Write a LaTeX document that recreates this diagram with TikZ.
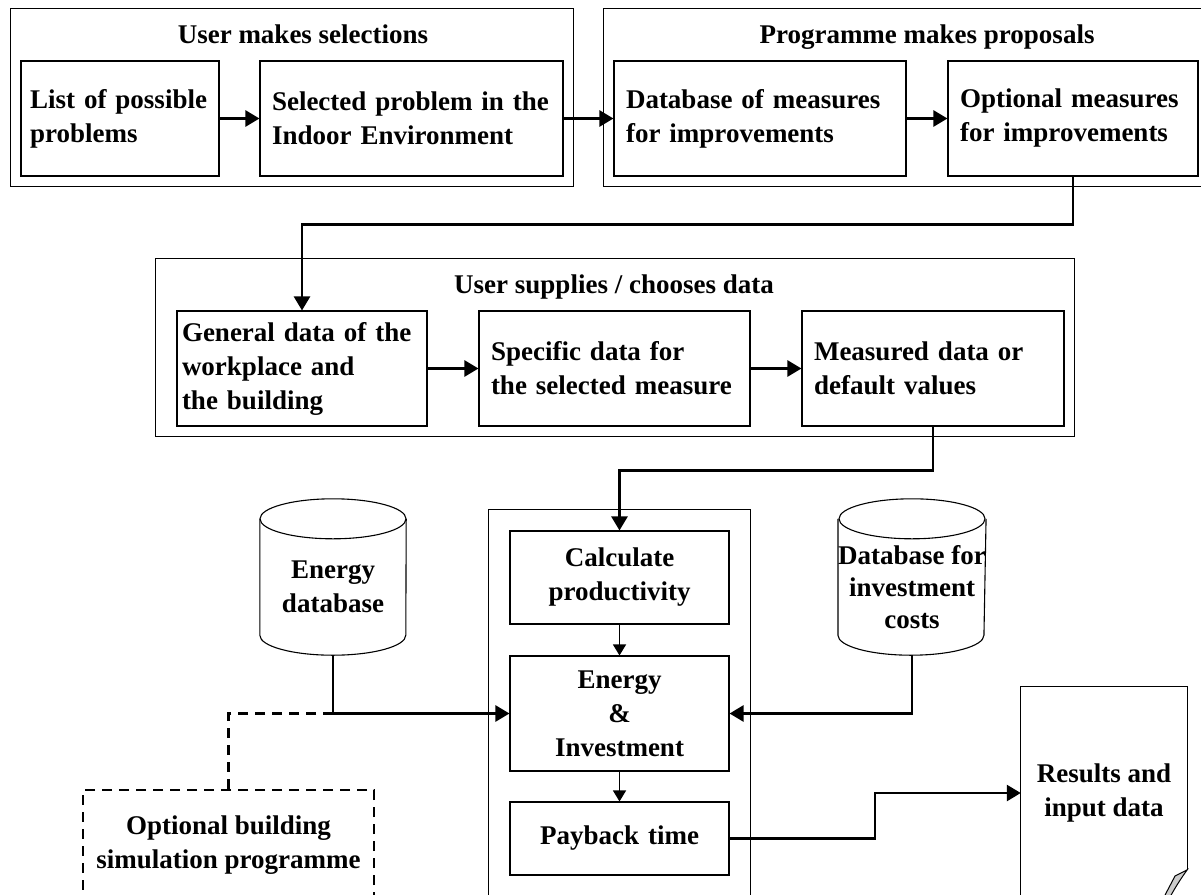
\documentclass[tikz,border=0pt]{standalone}
\usepackage{fontspec}
\setmainfont{Liberation Serif}
\usetikzlibrary{positioning,fit,calc,arrows.meta}

\newcommand\dbcylinder[1]{%
  \draw[line width=1.1pt] (#1.north west) -- ($(#1.south west)+(0,-20)$)
     arc[start angle=180,end angle=360,x radius=73pt,y radius=20pt] -- (#1.north east);
  \draw[line width=1.1pt] (#1.north) ellipse[x radius=73pt,y radius=20pt];}

\begin{document}
\begin{tikzpicture}[x=1pt,y=-1pt,on grid,node distance=100pt,
    font=\bfseries\fontsize{27}{34}\selectfont,
    box/.style={draw,line width=1.1pt,minimum height=115pt,inner xsep=12pt,inner ysep=0pt,align=left},
    calcbox/.style={draw,line width=1.1pt,text width=219pt,inner sep=0pt,align=center},
    grp/.style={draw,line width=1.1pt,inner sep=10pt},
    title/.style={inner sep=0pt,anchor=base,text height=24pt},
    db/.style={minimum width=146pt,minimum height=136pt,inner sep=0pt,align=center},
    flow/.style={-{Triangle[length=14pt,width=16pt]},line width=2.6pt},
    thin flow/.style={-{Triangle[length=11pt,width=13pt]},line width=1.4pt},
    sim link/.style={dash pattern=on 10pt off 7pt,line width=2.8pt}]
   \useasboundingbox (0,0) rectangle (1201,894);
   \clip (0,0) rectangle (1201,894);

   \node[box,inner xsep=9pt,text width=180pt] (list) at (120,118.5) {List of possible\\problems};
   \node[box,text width=279pt] (sel) [right=291.5pt of list] {Selected problem in the\\Indoor Environment};
   \node[box,text width=268pt] (dbm) [right=348.5pt of sel] {Database of measures\\for improvements};
   \node[box,text width=226pt] (opt) [right=313pt of dbm] {Optional measures\\for improvements};
   \node[title] (t1) at (303,43) {User makes selections};
   \node[title] (t2) at (927,43) {Programme makes proposals};
   \node[grp,fit=(t1)(list)(sel)] (g1) {};
   \node[grp,fit=(t2)(dbm)(opt)] (g2) {};

   \node[box,inner xsep=5pt,text width=240pt] (gen) at (302,368.5) {General data of the\\workplace and\\the building};
   \node[box,text width=247pt] (spec) [right=312.5pt of gen] {Specific data for\\the selected measure};
   \node[box,text width=238pt] (meas) [right=318.5pt of spec] {Measured data or\\default values};
   \node[title] (t3) at (614,293) {User supplies / chooses data};
   \coordinate (g3w) at ($(gen.west)+(-11,0)$);
   \node[grp,fit=(t3)(gen)(meas)(g3w)] (g3) {};

   \node[calcbox,minimum height=93pt] (calc) at (619.5,577.5) {Calculate\\productivity};
   \node[calcbox,minimum height=115pt] (enin) [below=136pt of calc] {Energy\\\&\\Investment};
   \node[calcbox,minimum height=73pt] (payb) [below=125pt of enin] {Payback time};
   \node[grp,inner sep=21pt,fit=(calc)(payb)] (core) {};

   \node[db] (edb) at (333,587) {Energy\\database};
   \node[db,font=\bfseries\fontsize{27}{32}\selectfont] (icc) at (912,587) {Database for\\investment\\costs};
   \dbcylinder{edb}
   \dbcylinder{icc}

   \node[minimum width=166pt,minimum height=212pt,inner sep=0pt,align=center] (doc) at (1104,793) {Results and\\input data};
   \draw[line width=1.1pt] (doc.south west) -- (doc.north west) -- (doc.north east) -- ($(doc.north east)+(0,183)$) coordinate (curl);
   \filldraw[fill=gray!40,line width=1pt] (curl) -- (1175,876) -- (1164,897) -- (1170,897) .. controls (1176,886) and (1182,877) .. (curl) -- cycle;

   \node[draw,sim link,minimum width=291pt,minimum height=110pt,align=center] (sim) at (228.5,845) {Optional building\\simulation programme};

   \path[flow] (list) edge (sel)
               (sel) edge (dbm)
               (dbm) edge (opt)
               (gen) edge (spec)
               (spec) edge (meas);
   \draw[flow] (opt.south) -- ++(0,48) -| (gen.north);
   \draw[flow] (meas.south) -- ++(0,44) -| (calc.north);
   \path[thin flow] (calc) edge (enin)
                    (enin) edge (payb);
   \draw[flow] (edb.south) |- (enin.west);
   \draw[flow] (icc.south) |- (enin.east);
   \draw[flow] (payb.east) -| ($(payb.east)!.5!(doc.west)$) |- (doc.west);
   \draw[sim link] (edb.south |- enin.west) -| (sim.north);
\end{tikzpicture}
\end{document}
